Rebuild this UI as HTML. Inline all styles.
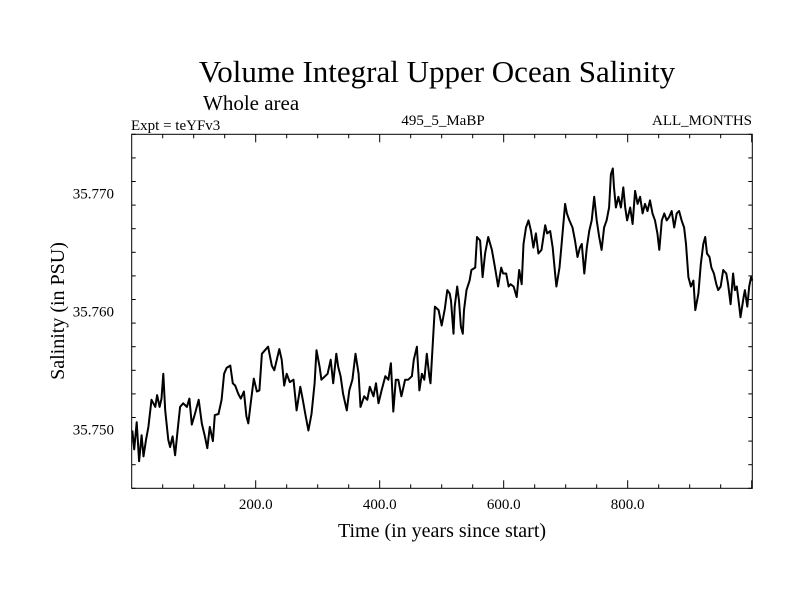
<!DOCTYPE html>
<html><head><meta charset="utf-8"><style>
body{margin:0;background:#fff;}
svg text{font-family:"Liberation Serif",serif;fill:#000;}
</style></head><body>
<svg id="chart" width="800" height="600" viewBox="0 0 800 600">
<rect width="800" height="600" fill="#fff"/>
<text x="437" y="82" font-size="31" text-anchor="middle">Volume Integral Upper Ocean Salinity</text>
<text x="203" y="110" font-size="21">Whole area</text>
<text x="131" y="130" font-size="15">Expt = teYFv3</text>
<text x="443" y="125" font-size="15" text-anchor="middle">495_5_MaBP</text>
<text x="752" y="125" font-size="15" text-anchor="end">ALL_MONTHS</text>
<text x="442" y="537" font-size="20" text-anchor="middle">Time (in years since start)</text>
<text transform="translate(64,311) rotate(-90)" font-size="20" text-anchor="middle">Salinity (in PSU)</text>
<g id="axes"></g>
<path id="series" fill="none" stroke="#000" stroke-width="2" stroke-linejoin="round"/>
<rect x="131.7" y="134.3" width="620.6" height="354" fill="none" stroke="#000" stroke-width="1"/>
</svg>
<script>
const years=[1,4,8,12,16,19,23,27,32,38,41,45,48,51,54,59,62,66,70,74,78,83,89,93,97,102,108,113,118,122,126,131,134,140,145,149,153,159,163,167,172,176,181,185,188,192,197,202,206,210,215,220,226,230,234,238,242,246,250,255,261,266,272,276,280,285,290,295,298,303,306,312,316,321,325,330,333,337,341,347,351,356,361,366,369,375,380,384,390,394,398,403,409,414,418,422,426,430,435,441,446,452,455,460,464,468,472,476,480,482,485,489,495,500,505,509,513,515,519,521,525,528,531,534,536,540,545,548,554,557,562,566,570,575,581,586,591,596,599,604,608,611,616,621,625,629,632,636,640,644,648,652,656,661,667,670,675,679,683,685,690,693,699,702,706,711,715,719,723,726,730,734,738,742,746,750,754,758,762,766,770,773,776,778,781,785,789,793,796,799,804,808,812,816,820,824,828,832,836,840,844,848,851,855,859,863,867,871,875,879,883,887,891,894,898,902,906,909,914,918,922,925,928,932,935,939,943,946,950,954,959,962,966,970,973,976,980,982,987,989,993,996,999,1001];
const salinity=[35.7499,35.7483,35.7506,35.7473,35.7495,35.7477,35.7491,35.7502,35.7525,35.7519,35.7529,35.7519,35.7526,35.7547,35.7516,35.7491,35.7485,35.7494,35.7478,35.7499,35.7519,35.7522,35.7519,35.7526,35.7504,35.7513,35.7525,35.7505,35.7494,35.7484,35.7502,35.7490,35.7512,35.7513,35.7525,35.7547,35.7552,35.7554,35.7539,35.7537,35.7530,35.7526,35.7532,35.7511,35.7505,35.7522,35.7543,35.7532,35.7533,35.7564,35.7567,35.7570,35.7554,35.7550,35.7559,35.7568,35.7559,35.7537,35.7547,35.7540,35.7542,35.7516,35.7536,35.7525,35.7513,35.7499,35.7513,35.7539,35.7567,35.7553,35.7542,35.7545,35.7547,35.7559,35.7539,35.7564,35.7553,35.7545,35.7530,35.7516,35.7533,35.7542,35.7564,35.7547,35.7519,35.7528,35.7525,35.7536,35.7528,35.7539,35.7522,35.7533,35.7545,35.7542,35.7556,35.7515,35.7542,35.7542,35.7528,35.7542,35.7542,35.7545,35.7559,35.7570,35.7533,35.7547,35.7542,35.7564,35.7545,35.7539,35.7567,35.7604,35.7601,35.7588,35.7602,35.7618,35.7615,35.7609,35.7581,35.7604,35.7621,35.7609,35.7587,35.7581,35.7601,35.7618,35.7626,35.7635,35.7637,35.7663,35.7660,35.7629,35.7649,35.7663,35.7652,35.7637,35.7621,35.7637,35.7632,35.7632,35.7621,35.7623,35.7621,35.7612,35.7635,35.7623,35.7657,35.7671,35.7677,35.7668,35.7654,35.7666,35.7649,35.7652,35.7673,35.7666,35.7668,35.7654,35.7632,35.7621,35.7637,35.7654,35.7691,35.7683,35.7677,35.7671,35.7660,35.7646,35.7654,35.7657,35.7632,35.7654,35.7668,35.7677,35.7697,35.7677,35.7663,35.7652,35.7671,35.7677,35.7688,35.7716,35.7721,35.7705,35.7688,35.7697,35.7688,35.7705,35.7688,35.7677,35.7688,35.7674,35.7702,35.7691,35.7697,35.7683,35.7691,35.7685,35.7694,35.7683,35.7677,35.7666,35.7652,35.7677,35.7683,35.7677,35.7680,35.7685,35.7671,35.7683,35.7685,35.7677,35.7671,35.7657,35.7629,35.7621,35.7626,35.7601,35.7615,35.7640,35.7657,35.7663,35.7649,35.7646,35.7637,35.7632,35.7623,35.7618,35.7621,35.7635,35.7632,35.7623,35.7606,35.7632,35.7618,35.7621,35.7604,35.7595,35.7612,35.7618,35.7604,35.7621,35.7629,35.7626];
const xTickLabels=["200.0","400.0","600.0","800.0"];
const xTickValues=[200,400,600,800];
const yTickLabels=["35.750","35.760","35.770"];
const yTickValues=[35.750,35.760,35.770];
const X0=131.7,X1=752.3,Y0=488.3,Y1=134.3,XMIN=0,XMAX=1001,YMIN=35.745,YMAX=35.775;
const xs=v=>X0+(v-XMIN)/(XMAX-XMIN)*(X1-X0);
const ys=v=>Y0-(v-YMIN)/(YMAX-YMIN)*(Y0-Y1);
const NS="http://www.w3.org/2000/svg";
const g=document.getElementById('axes');
function line(x1,y1,x2,y2,name){const l=document.createElementNS(NS,'line');l.setAttribute('x1',x1);l.setAttribute('y1',y1);l.setAttribute('x2',x2);l.setAttribute('y2',y2);l.setAttribute('stroke','#000');l.setAttribute('stroke-width','1');


g.appendChild(l);}
for(let v=50;v<XMAX;v+=50){const x=xs(v);const L=(v%200===0)?8:4;line(x,Y0,x,Y0-L,'x-tick');line(x,Y1,x,Y1+L,'x-tick-top');}
for(let k=0;k<=15;k++){const v=YMIN+k*0.002;const y=ys(v);const major=Math.abs(((v-35.750)/0.01)-Math.round((v-35.750)/0.01))<1e-6;const L=major?8:4;line(X0,y,X0+L,y,'y-tick');line(X1,y,X1-L,y,'y-tick-right');}
xTickLabels.forEach((t,i)=>{const e=document.createElementNS(NS,'text');e.setAttribute('x',xs(xTickValues[i]));e.setAttribute('y',509);e.setAttribute('font-size','15');e.setAttribute('text-anchor','middle');e.textContent=t;


g.appendChild(e);});
yTickLabels.forEach((t,i)=>{const e=document.createElementNS(NS,'text');e.setAttribute('x',114);e.setAttribute('y',ys(yTickValues[i])+5);e.setAttribute('font-size','15');e.setAttribute('text-anchor','end');e.textContent=t;


g.appendChild(e);});
let d='';years.forEach((yr,i)=>{d+=(i?'L':'M')+xs(yr).toFixed(1)+','+ys(salinity[i]).toFixed(1);});
document.getElementById('series').setAttribute('d',d);
</script>
</body></html>
